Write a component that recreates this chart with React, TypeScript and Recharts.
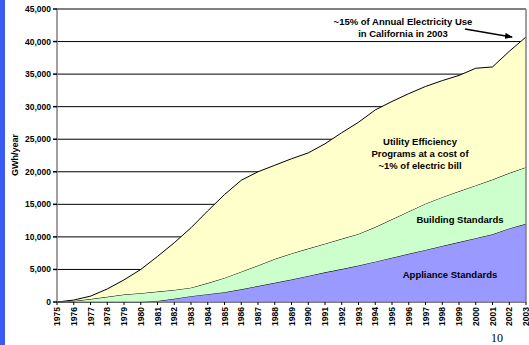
import React from "react";
import {
  AreaChart,
  Area,
  XAxis,
  YAxis,
  CartesianGrid,
  ReferenceLine,
} from "recharts";

const years = [
  "1975", "1976", "1977", "1978", "1979", "1980", "1981", "1982", "1983", "1984",
  "1985", "1986", "1987", "1988", "1989", "1990", "1991", "1992", "1993", "1994",
  "1995", "1996", "1997", "1998", "1999", "2000", "2001", "2002", "2003",
];

const applianceStandards = [
  0, 0, 0, 0, 0, 0, 150, 500, 900, 1200,
  1500, 1950, 2450, 2950, 3450, 4000, 4550, 5050, 5600, 6200,
  6800, 7400, 8000, 8600, 9200, 9800, 10400, 11300, 12000,
];

const buildingStandards = [
  0, 150, 450, 800, 1150, 1350, 1450, 1350, 1300, 1700,
  2200, 2700, 3150, 3650, 4000, 4200, 4400, 4650, 4850, 5300,
  5900, 6500, 7100, 7500, 7800, 8100, 8400, 8500, 8700,
];

const utilityPrograms = [
  0, 150, 450, 1200, 2250, 3650, 5400, 7250, 9200, 11100,
  12800, 14050, 14400, 14400, 14550, 14700, 15350, 16300, 17150, 18000,
  18100, 18100, 18000, 17900, 17800, 18000, 17300, 18700, 20000,
];

const yTicks = [0, 5000, 10000, 15000, 20000, 25000, 30000, 35000, 40000, 45000];

const data = years.map((y, i) => ({
  year: y,
  appliance: applianceStandards[i],
  building: buildingStandards[i],
  utility: utilityPrograms[i],
}));

const FONT = "'Liberation Sans', Arial, sans-serif";

const XTick = (props: any) => {
  const { x, y, payload } = props;
  return (
    <text
      x={x}
      y={y}
      transform={`rotate(-90, ${x}, ${y})`}
      textAnchor="end"
      dominantBaseline="central"
      fontFamily={FONT}
      fontWeight="bold"
      fontSize={8.5}
      fill="#000"
    >
      {payload.value}
    </text>
  );
};

export default function App() {
  return (
    <div
      style={{
        position: "fixed",
        left: 0,
        top: 0,
        width: 529,
        height: 345,
        background: "#fff",
        overflow: "hidden",
      }}
    >
      <div
        style={{
          position: "absolute",
          left: 0,
          top: 0,
          width: 5,
          height: 345,
          background: "#3a5cf5",
        }}
      />
      <AreaChart
        width={529}
        height={345}
        data={data}
        margin={{ top: 9, right: 3, bottom: 0, left: 7 }}
        style={{ position: "absolute", left: 0, top: 0 }}
      >
        <CartesianGrid horizontal vertical={false} stroke="#000" strokeWidth={1} />
        <XAxis
          dataKey="year"
          interval={0}
          height={43}
          tickSize={3}
          tickMargin={2}
          stroke="#808080"
          tickLine={{ stroke: "#000" }}
          tick={<XTick />}
        />
        <YAxis
          width={50}
          domain={[0, 45000]}
          ticks={yTicks}
          interval={0}
          tickSize={4}
          tickMargin={2}
          stroke="#808080"
          strokeWidth={1.5}
          tickLine={{ stroke: "#000" }}
          tickFormatter={(v: number) => v.toLocaleString("en-US")}
          tick={{ fontFamily: FONT, fontWeight: "bold", fontSize: 8.5, fill: "#000" }}
        />
        <Area
          type="linear"
          dataKey="appliance"
          stackId="1"
          stroke="#000"
          strokeWidth={1}
          fill="#9999ff"
          fillOpacity={1}
          isAnimationActive={false}
        />
        <Area
          type="linear"
          dataKey="building"
          stackId="1"
          stroke="#000"
          strokeWidth={1}
          fill="#ccffcc"
          fillOpacity={1}
          isAnimationActive={false}
        />
        <Area
          type="linear"
          dataKey="utility"
          stackId="1"
          stroke="#000"
          strokeWidth={1}
          fill="#ffffcc"
          fillOpacity={1}
          isAnimationActive={false}
        />
        <ReferenceLine y={45000} stroke="#808080" strokeWidth={1.5} />
        <ReferenceLine x="2003" stroke="#808080" strokeWidth={1.5} />
      </AreaChart>
      <svg
        width={529}
        height={345}
        style={{ position: "absolute", left: 0, top: 0, pointerEvents: "none" }}
      >
        <defs>
          <marker
            id="arrowhead"
            markerWidth="8"
            markerHeight="6"
            refX="7"
            refY="3"
            orient="auto"
            markerUnits="userSpaceOnUse"
          >
            <path d="M0,0 L8,3 L0,6 Z" fill="#000" />
          </marker>
        </defs>
        <g fontFamily={FONT} fontWeight="bold" fill="#000">
          <text
            x={15}
            y={155}
            fontSize={9}
            textAnchor="middle"
            transform="rotate(-90, 15, 155)"
            dominantBaseline="central"
          >
            GWh/year
          </text>
          <text x={403} y={25} fontSize={9.5} textAnchor="middle">
            ~15% of Annual Electricity Use
          </text>
          <text x={403} y={37} fontSize={9.5} textAnchor="middle">
            in California in 2003
          </text>
          <text x={420} y={145} fontSize={9.5} textAnchor="middle">
            Utility Efficiency
          </text>
          <text x={420} y={157} fontSize={9.5} textAnchor="middle">
            Programs at a cost of
          </text>
          <text x={420} y={169} fontSize={9.5} textAnchor="middle">
            ~1% of electric bill
          </text>
          <text x={460} y={223} fontSize={9.5} textAnchor="middle">
            Building Standards
          </text>
          <text x={450} y={278} fontSize={9.5} textAnchor="middle">
            Appliance Standards
          </text>
        </g>
        <line
          x1={465}
          y1={29}
          x2={512}
          y2={37}
          stroke="#000"
          strokeWidth={1.5}
          markerEnd="url(#arrowhead)"
        />
        <text
          x={497}
          y={342}
          fontFamily="'Liberation Serif', 'Times New Roman', serif"
          fontSize={12}
          textAnchor="middle"
          fill="#000"
        >
          10
        </text>
      </svg>
    </div>
  );
}
